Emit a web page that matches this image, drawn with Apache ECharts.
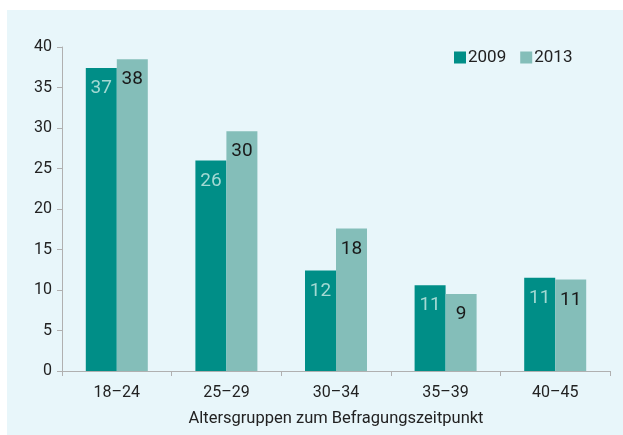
<!DOCTYPE html>
<html>
<head>
<meta charset="utf-8">
<script src="https://cdn.jsdelivr.net/npm/echarts@6/dist/echarts.min.js"></script>
<style>
  html, body { margin: 0; padding: 0; background: #fff; }
  #chart { width: 623px; height: 435px; }
</style>
</head>
<body>
<div id="chart"></div>
<script>
const categories = ['18–24', '25–29', '30–34', '35–39', '40–45']
const values2009 = [37.4, 26.0, 12.4, 10.6, 11.5]
const values2013 = [38.5, 29.6, 17.6, 9.5, 11.3]
const labels2009 = ['37', '26', '12', '11', '11']
const labels2013 = ['38', '30', '18', '9', '11']
const yTicks = [0, 5, 10, 15, 20, 25, 30, 35, 40]

const font = 'Roboto, "Liberation Sans", sans-serif'

let myChart = echarts.init(document.getElementById('chart'))

const option = {
  backgroundColor: '#ffffff',
  textStyle: { fontFamily: font },
  graphic: [
    {
      type: 'rect',
      z: -1,
      shape: { x: 7, y: 10, width: 616, height: 425 },
      style: { fill: '#e8f6fa' }
    }
  ],
  legend: {
    data: ['2009', '2013'],
    left: 449,
    top: 44,
    itemWidth: 12,
    itemHeight: 12,
    itemGap: 14,
    icon: 'rect',
    textStyle: { fontSize: 17, color: '#222', fontFamily: font, padding: [0, 0, 0, -3] }
  },
  grid: {
    left: 62,
    right: 13,
    top: 47,
    bottom: 64
  },
  xAxis: {
    type: 'category',
    data: categories,
    name: 'Altersgruppen zum Befragungszeitpunkt',
    nameLocation: 'middle',
    nameGap: 39,
    nameTextStyle: { fontSize: 16.5, color: '#222', fontFamily: font },
    axisLine: { lineStyle: { color: '#b0b0b0', width: 1 } },
    axisTick: { show: true, length: 5, lineStyle: { color: '#b0b0b0' } },
    axisLabel: { fontSize: 16, color: '#222', margin: 14, fontFamily: font }
  },
  yAxis: {
    type: 'value',
    min: yTicks[0],
    max: yTicks[yTicks.length - 1],
    interval: 5,
    splitLine: { show: false },
    axisLine: { show: true, lineStyle: { color: '#b0b0b0', width: 1 } },
    axisTick: { show: true, length: 5, lineStyle: { color: '#b0b0b0' } },
    axisLabel: { fontSize: 16, color: '#222', margin: 10, fontFamily: font }
  },
  series: [
    {
      name: '2009',
      type: 'bar',
      data: values2009,
      barWidth: 31,
      barGap: '0%',
      itemStyle: { color: '#008e87' },
      label: {
        show: true,
        position: 'insideTop',
        distance: 11,
        fontSize: 19,
        color: '#a3d9d3',
        fontFamily: font,
        formatter: p => labels2009[p.dataIndex]
      }
    },
    {
      name: '2013',
      type: 'bar',
      data: values2013,
      barWidth: 31,
      barGap: '0%',
      itemStyle: { color: '#84beb9' },
      label: {
        show: true,
        position: 'insideTop',
        distance: 11,
        fontSize: 19,
        color: '#1a1a1a',
        fontFamily: font,
        formatter: p => labels2013[p.dataIndex]
      }
    }
  ]
}

myChart.setOption(option)
</script>
</body>
</html>
